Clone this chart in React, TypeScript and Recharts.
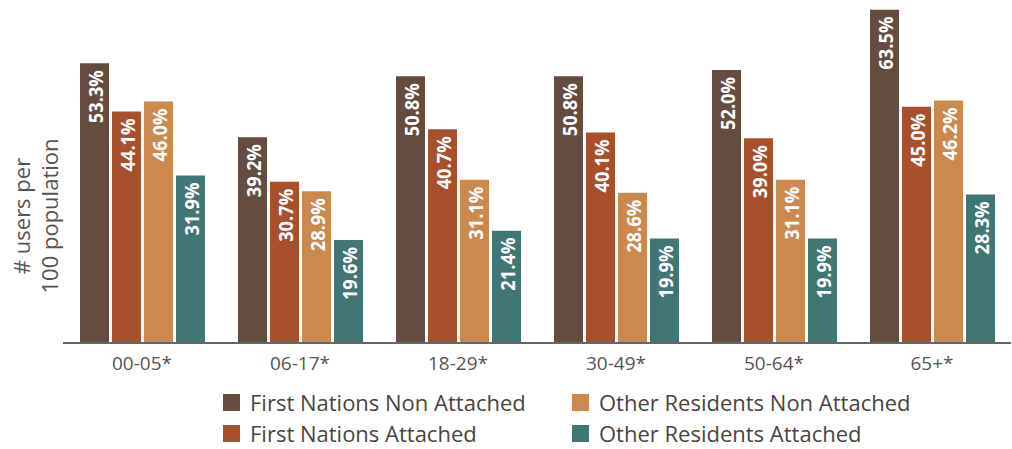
import { BarChart, Bar, XAxis, YAxis, LabelList } from 'recharts';

const ageGroups = ['00-05*', '06-17*', '18-29*', '30-49*', '50-64*', '65+*'];
const fnNonAttached = [53.3, 39.2, 50.8, 50.8, 52.0, 63.5];
const fnAttached = [44.1, 30.7, 40.7, 40.1, 39.0, 45.0];
const orNonAttached = [46.0, 28.9, 31.1, 28.6, 31.1, 46.2];
const orAttached = [31.9, 19.6, 21.4, 19.9, 19.9, 28.3];

const series = [
  { key: 'fnNon', name: 'First Nations Non Attached', color: '#644D40' },
  { key: 'fnAtt', name: 'First Nations Attached', color: '#A8502C' },
  { key: 'orNon', name: 'Other Residents Non Attached', color: '#CB894E' },
  { key: 'orAtt', name: 'Other Residents Attached', color: '#407775' },
];

const data = ageGroups.map((g, i) => ({
  group: g,
  fnNon: fnNonAttached[i],
  fnAtt: fnAttached[i],
  orNon: orNonAttached[i],
  orAtt: orAttached[i],
}));

const FONT = '"Open Sans", sans-serif';

// white rotated value inside the top of each bar
const barLabel = (props: any) => {
  const { x, y, width, value } = props;
  const cx = Number(x) + Number(width) / 2 + 1;
  const ty = Number(y) + 7;
  return (
    <text
      x={cx}
      y={ty}
      transform={`rotate(-90, ${cx}, ${ty})`}
      textAnchor="end"
      dominantBaseline="central"
      fill="#fff"
      fontFamily={FONT}
      fontWeight={700}
      fontSize={20}
      textLength={53}
      lengthAdjust="spacingAndGlyphs"
    >
      {Number(value).toFixed(1)}%
    </text>
  );
};

const legendItem = (s: { name: string; color: string }, left: number, top: number) => (
  <div
    key={s.name}
    style={{ position: 'absolute', left, top, display: 'flex', alignItems: 'center', height: 22 }}
  >
    <span style={{ width: 17, height: 17, background: s.color, display: 'inline-block', marginRight: 10 }} />
    <span style={{ fontFamily: FONT, fontSize: 22, lineHeight: '22px', color: '#4a4540', whiteSpace: 'nowrap' }}>
      {s.name}
    </span>
  </div>
);

export default function App() {
  return (
    <div style={{ position: 'absolute', left: 0, top: 0, width: 1012, height: 449, background: '#fff' }}>
      <BarChart
        width={1012}
        height={449}
        data={data}
        margin={{ top: 7, right: 1, left: 63, bottom: 70 }}
        barSize={29}
        barGap={3}
      >
        <XAxis
          dataKey="group"
          height={36}
          tickLine={false}
          axisLine={{ stroke: '#666', strokeWidth: 2 }}
          tick={{ fill: '#555', fontSize: 19, fontFamily: FONT }}
          tickMargin={8}
          interval={0}
        />
        <YAxis hide domain={[0, 64]} />
        {series.map((s) => (
          <Bar key={s.key} dataKey={s.key} name={s.name} fill={s.color} isAnimationActive={false}>
            <LabelList dataKey={s.key} content={barLabel} />
          </Bar>
        ))}
      </BarChart>
      <svg width={70} height={449} style={{ position: 'absolute', left: 0, top: 0 }}>
        <text
          transform="translate(30,216) rotate(-90)"
          textAnchor="middle"
          fill="#555"
          fontFamily={FONT}
          fontSize={22}
        >
          <tspan x={0} y={0}># users per</tspan>
          <tspan x={0} y={28}>100 population</tspan>
        </text>
      </svg>
      {legendItem(series[0], 223, 391)}
      {legendItem(series[1], 223, 422)}
      {legendItem(series[2], 572, 391)}
      {legendItem(series[3], 572, 422)}
    </div>
  );
}
